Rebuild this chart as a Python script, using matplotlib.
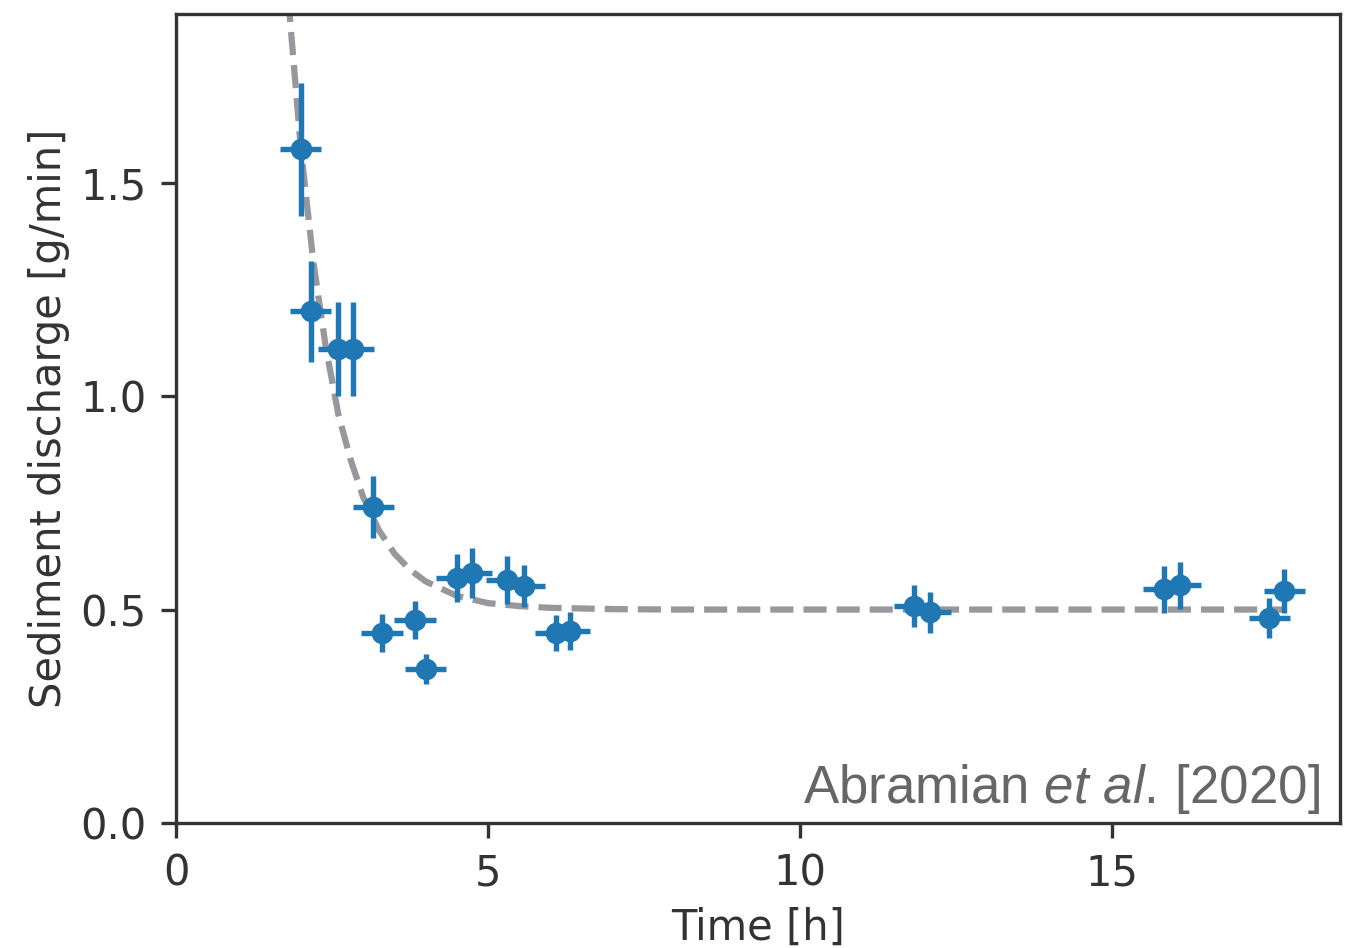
import matplotlib
matplotlib.use('Agg')
import matplotlib.pyplot as plt

# measured sediment discharge
time_h = [2.00, 2.16, 2.60, 2.84, 3.16, 3.30, 3.83, 4.00, 4.50, 4.74,
          5.30, 5.58, 6.09, 6.31, 11.83, 12.08, 15.83, 16.09, 17.52, 17.76]
discharge = [1.578, 1.199, 1.110, 1.110, 0.740, 0.445, 0.475, 0.360, 0.574, 0.585,
             0.569, 0.555, 0.445, 0.450, 0.508, 0.494, 0.548, 0.557, 0.480, 0.543]
discharge_err = [0.155, 0.118, 0.110, 0.110, 0.073, 0.045, 0.045, 0.035, 0.057, 0.058,
                 0.056, 0.050, 0.043, 0.045, 0.050, 0.048, 0.055, 0.055, 0.047, 0.052]
time_err = [0.33] * len(time_h)

# fitted relaxation curve
fit_t = [1.75, 1.82, 2.0, 2.2, 2.4, 2.6, 2.8, 3.0, 3.25, 3.5, 3.75, 4.0,
         4.5, 5.0, 5.5, 6.0, 7.0, 8.0, 17.75]
fit_q = [2.05, 1.895, 1.58, 1.315, 1.115, 0.958, 0.85, 0.763, 0.686, 0.631,
         0.593, 0.566, 0.532, 0.515, 0.508, 0.504, 0.501, 0.500, 0.500]

dark = '#333333'
plt.rcParams['font.family'] = 'DejaVu Sans'
plt.rcParams['font.size'] = 10
plt.rcParams['mathtext.fontset'] = 'custom'
plt.rcParams['mathtext.rm'] = 'Liberation Sans'
plt.rcParams['mathtext.it'] = 'Liberation Sans:italic'

fig = plt.figure(figsize=(1353 / 300, 948 / 300), dpi=300)
ax = fig.add_axes([176 / 1353, 125 / 948, 1164 / 1353, 809 / 948])

ax.plot(fit_t, fit_q, ls=(0, (3.7, 1.6)), lw=1.5, color='#98989c', zorder=1)
ax.errorbar(time_h, discharge, yerr=discharge_err, xerr=time_err,
            fmt='o', ms=4.2, color='#1f77b4', elinewidth=1.3, capsize=0, zorder=2)

ax.set_xlim(0, 18.65)
ax.set_ylim(0, 1.895)
ax.set_xticks([0, 5, 10, 15])
ax.set_yticks([0, 0.5, 1.0, 1.5])
ax.set_xlabel('Time [h]', color=dark, labelpad=3)
ax.set_ylabel('Sediment discharge [g/min]', color=dark, labelpad=2.5)
for s in ax.spines.values():
    s.set_color(dark)
    s.set_linewidth(0.8)
ax.tick_params(colors=dark, width=0.8, length=3.5)

ax.text(0.983, 0.025, r'Abramian $et\ al.\,$[2020]', transform=ax.transAxes,
        ha='right', va='baseline', fontsize=12.7, color='#666666',
        family='Liberation Sans')

fig.savefig('out.png', dpi=300)
